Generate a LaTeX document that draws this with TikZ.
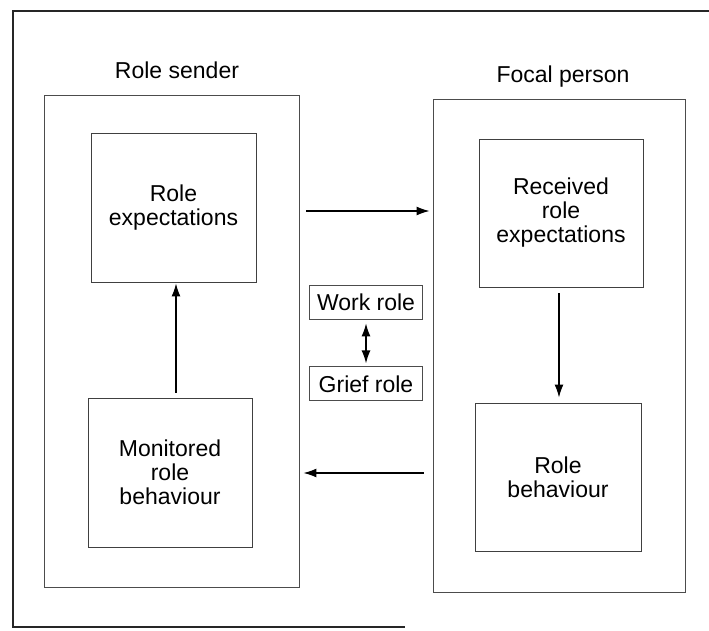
\documentclass[tikz,border=0pt]{standalone}
\usepackage{fontspec}
\setmainfont{Liberation Sans}
\usetikzlibrary{positioning, arrows.meta}
\tikzset{
>={Latex[length=13pt,width=9pt]}, % filled arrow heads
frame/.style={draw=black!70, line width=0.9pt, inner sep=0pt}, % the box round each person
rolebox/.style={draw=black!75, line width=0.9pt, inner sep=0pt, align=center,
  minimum width=165pt, minimum height=149pt, font=\fontsize{23}{24}\selectfont}, % the four role boxes
tagbox/.style={draw=black!70, line width=0.8pt, inner sep=0pt,
  minimum width=113pt, minimum height=34pt, font=\fontsize{23}{24}\selectfont}, % work role / grief role
title/.style={font=\fontsize{23}{24}\selectfont}, % text over each person
link/.style={->, line width=1.3pt}, % arrows between the boxes
}

\begin{document}
\begin{tikzpicture}[x=1pt, y=-1pt]
        \useasboundingbox (0,0) rectangle (709,631);
        \draw[line width=1.3pt, black!85] (709,11) -- (13,11) -- (13,627) -- (405,627);

        \node[frame, minimum width=255pt, minimum height=492pt] (sender) at (171.5,341) {};
        \node[frame, minimum width=252pt, minimum height=493pt] (focal) at (559,345.5) {};
        \node[title] (sendertitle) at (177,70) {Role sender};
        \node[title] (focaltitle) at (563,76.5) {Focal person};

        \node[rolebox] (roleexp) at (173.5,207.5) {Role\\expectations};
        \node[rolebox, minimum width=164pt] (monitored) at (170,472.5) {Monitored\\role\\behaviour};
        \node[rolebox, minimum width=164pt, minimum height=148pt] (received) at (561,213) {Received\\role\\expectations};
        \node[rolebox, minimum width=166pt, minimum height=148pt] (rolebeh) at (558,477) {Role\\behaviour};

        \node[tagbox] (work) at (366,302) {Work role};
        \node[tagbox, below=47pt of work] (grief) {Grief role};

        \draw[link, shorten <=5pt, shorten >=1pt] (monitored.north -| 176,0) -- (roleexp.south -| 176,0);
        \draw[link, shorten <=6pt, shorten >=5pt] (received.south -| 559,0) -- (rolebeh.north -| 559,0);
        \draw[link, shorten <=7pt, shorten >=3pt] (sender.east |- 0,211) -- (focal.west |- 0,211);
        \draw[link, shorten <=9pt, shorten >=4pt] (focal.west |- 0,473) -- (sender.east |- 0,473);
        \draw[link, <->, shorten <=4pt, shorten >=3pt] (work.south) -- (grief.north);
\end{tikzpicture}
\end{document}
